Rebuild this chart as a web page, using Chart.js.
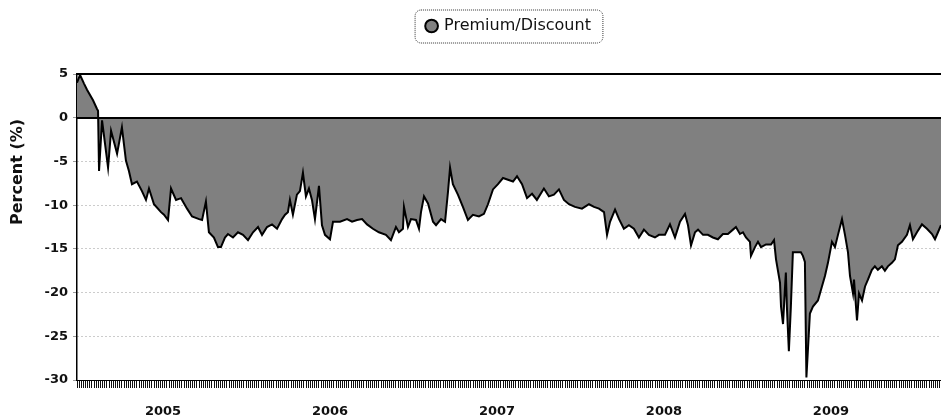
<!DOCTYPE html>
<html>
<head>
<meta charset="utf-8">
<title>Premium/Discount</title>
<script src="https://cdn.jsdelivr.net/npm/chart.js@4.4.1/dist/chart.umd.min.js"></script>
<style>
  html, body { margin: 0; padding: 0; background: #fff; overflow: hidden; }
  #wrap { width: 941px; height: 416px; position: relative; }
  canvas { display: block; }
</style>
</head>
<body>
<div id="wrap"><canvas id="premium-chart"></canvas></div>
<script>
// readings taken off the chart, date as decimal year
const dates = [
  2004.485, 2004.503, 2004.527, 2004.545, 2004.581, 2004.605, 2004.611, 2004.617, 2004.635, 2004.671,
  2004.689, 2004.725, 2004.754, 2004.778, 2004.796, 2004.814, 2004.844, 2004.874, 2004.898, 2004.916,
  2004.946, 2004.988, 2005.006, 2005.030, 2005.048, 2005.078, 2005.108, 2005.144, 2005.174, 2005.216,
  2005.234, 2005.257, 2005.275, 2005.305, 2005.329, 2005.347, 2005.371, 2005.389, 2005.419, 2005.449,
  2005.479, 2005.509, 2005.539, 2005.569, 2005.593, 2005.623, 2005.653, 2005.683, 2005.713, 2005.731,
  2005.748, 2005.760, 2005.778, 2005.802, 2005.820, 2005.838, 2005.856, 2005.874, 2005.892, 2005.910,
  2005.934, 2005.952, 2005.970, 2006.000, 2006.018, 2006.060, 2006.102, 2006.132, 2006.162, 2006.192,
  2006.222, 2006.257, 2006.293, 2006.335, 2006.365, 2006.395, 2006.413, 2006.437, 2006.443, 2006.467,
  2006.485, 2006.515, 2006.533, 2006.545, 2006.563, 2006.587, 2006.617, 2006.635, 2006.665, 2006.689,
  2006.707, 2006.719, 2006.736, 2006.766, 2006.796, 2006.826, 2006.856, 2006.892, 2006.922, 2006.946,
  2006.976, 2007.006, 2007.036, 2007.066, 2007.096, 2007.120, 2007.150, 2007.180, 2007.210, 2007.239,
  2007.281, 2007.311, 2007.341, 2007.371, 2007.401, 2007.431, 2007.467, 2007.509, 2007.551, 2007.581,
  2007.611, 2007.641, 2007.659, 2007.677, 2007.707, 2007.731, 2007.760, 2007.790, 2007.820, 2007.850,
  2007.880, 2007.910, 2007.946, 2007.970, 2008.006, 2008.036, 2008.066, 2008.096, 2008.126, 2008.144,
  2008.162, 2008.186, 2008.204, 2008.234, 2008.263, 2008.293, 2008.323, 2008.353, 2008.383, 2008.413,
  2008.431, 2008.455, 2008.473, 2008.491, 2008.515, 2008.521, 2008.545, 2008.563, 2008.581, 2008.611,
  2008.641, 2008.659, 2008.671, 2008.695, 2008.701, 2008.713, 2008.724, 2008.730, 2008.736, 2008.748,
  2008.760, 2008.772, 2008.802, 2008.820, 2008.832, 2008.844, 2008.853, 2008.874, 2008.892, 2008.922,
  2008.946, 2008.964, 2008.982, 2009.006, 2009.024, 2009.042, 2009.066, 2009.084, 2009.102, 2009.114,
  2009.132, 2009.138, 2009.156, 2009.168, 2009.186, 2009.204, 2009.222, 2009.245, 2009.263, 2009.281,
  2009.305, 2009.323, 2009.341, 2009.365, 2009.383, 2009.401, 2009.425, 2009.455, 2009.473, 2009.491,
  2009.515, 2009.545, 2009.575, 2009.605, 2009.623, 2009.641, 2009.659
];
const premium = [
  4.0, 4.9, 3.9, 3.2, 2.0, 1.0, 0.8, -6.1, -0.3, -5.7,
  -1.5, -4.1, -1.1, -4.9, -6.1, -7.6, -7.3, -8.4, -9.4, -8.1,
  -9.9, -10.8, -11.1, -11.7, -8.1, -9.4, -9.2, -10.4, -11.3, -11.6,
  -11.7, -9.6, -13.1, -13.7, -14.8, -14.8, -13.7, -13.3, -13.7, -13.1,
  -13.4, -14.0, -13.1, -12.5, -13.4, -12.5, -12.2, -12.7, -11.6, -11.1,
  -10.8, -9.4, -11.1, -8.8, -8.4, -6.3, -9.0, -8.1, -9.4, -11.6,
  -7.8, -12.3, -13.4, -13.9, -11.9, -11.9, -11.6, -11.9, -11.7, -11.6,
  -12.2, -12.7, -13.1, -13.4, -14.0, -12.5, -13.1, -12.7, -10.2, -12.5,
  -11.6, -11.7, -12.7, -10.8, -9.0, -9.8, -11.9, -12.3, -11.6, -11.9,
  -8.4, -5.7, -7.6, -8.8, -10.2, -11.7, -11.1, -11.3, -11.0, -9.9,
  -8.2, -7.6, -6.9, -7.1, -7.3, -6.7, -7.6, -9.2, -8.7, -9.4,
  -8.1, -9.0, -8.8, -8.2, -9.4, -9.9, -10.2, -10.4, -9.9, -10.2,
  -10.4, -10.8, -13.4, -11.9, -10.5, -11.6, -12.7, -12.3, -12.7, -13.7,
  -12.8, -13.4, -13.7, -13.4, -13.4, -12.2, -13.7, -11.9, -11.0, -12.3,
  -14.6, -13.1, -12.8, -13.4, -13.4, -13.7, -13.9, -13.3, -13.3, -12.8,
  -12.5, -13.3, -13.1, -13.7, -14.2, -15.8, -14.8, -14.2, -14.8, -14.5,
  -14.5, -14.0, -16.2, -18.9, -21.6, -23.6, -19.7, -17.7, -21.6, -26.7,
  -21.6, -15.4, -15.4, -15.4, -15.8, -16.5, -29.7, -22.4, -21.6, -20.9,
  -19.3, -18.1, -16.6, -14.2, -14.8, -13.4, -11.6, -13.4, -15.4, -18.1,
  -20.1, -18.5, -23.2, -20.1, -20.9, -19.3, -18.5, -17.4, -17.0, -17.4,
  -17.0, -17.5, -17.0, -16.6, -16.2, -14.6, -14.2, -13.4, -12.3, -13.9,
  -13.1, -12.2, -12.7, -13.3, -13.9, -13.1, -12.3
];
const yearTicks = [2005, 2006, 2007, 2008, 2009];
const percentTicks = [5, 0, -5, -10, -15, -20, -25, -30];
const seriesName = "Premium/Discount";
const axisTitle = "Percent (%)";

const FONT = "'DejaVu Sans', Verdana, sans-serif";

// legend takes the space down to the plot top, rounded box round the item
const legendBox = {
  id: 'legendBox',
  beforeInit(chart) {
    const fit = chart.legend.fit;
    chart.legend.fit = function () {
      fit.call(this);
      this.height = 74;
    };
  },
  afterDraw(chart) {
    const hb = chart.legend.legendHitBoxes[0];
    if (!hb) return;
    const ctx = chart.ctx;
    ctx.save();
    ctx.strokeStyle = '#333';
    ctx.lineWidth = 1;
    ctx.setLineDash([1, 1]);
    ctx.beginPath();
    ctx.roundRect(hb.left - 12, hb.top - 8, hb.width + 24, hb.height + 17, 6);
    ctx.stroke();
    ctx.restore();
  }
};

// heavy lines at 0 and at the top, and the y title
const refLines = {
  id: 'refLines',
  afterDatasetsDraw(chart) {
    const { ctx, chartArea, scales: { y } } = chart;
    ctx.save();
    ctx.strokeStyle = '#000';
    ctx.lineWidth = 2;
    [0, 5].forEach(v => {
      const py = Math.round(y.getPixelForValue(v));
      ctx.beginPath();
      ctx.moveTo(chartArea.left, py);
      ctx.lineTo(chartArea.right, py);
      ctx.stroke();
    });
    ctx.restore();
  },
  afterDraw(chart) {
    const ctx = chart.ctx;
    ctx.save();
    ctx.translate(18, 172);
    ctx.rotate(-Math.PI / 2);
    ctx.font = "bold 16px " + FONT;
    ctx.fillStyle = '#111';
    ctx.textAlign = 'center';
    ctx.textBaseline = 'middle';
    ctx.fillText(axisTitle, 0, 0);
    ctx.restore();
  }
};

new Chart(document.getElementById('premium-chart'), {
  type: 'line',
  data: {
    datasets: [{
      label: seriesName,
      data: dates.map((d, i) => ({ x: d, y: premium[i] })),
      borderColor: '#000',
      borderWidth: 2,
      backgroundColor: '#808080',
      fill: 'origin',
      pointRadius: 0,
      tension: 0
    }]
  },
  options: {
    responsive: true,
    maintainAspectRatio: false,
    animation: false,
    layout: { padding: 0 },
    plugins: {
      legend: {
        position: 'top',
        fullSize: false,
        labels: {
          usePointStyle: true,
          pointStyle: 'circle',
          boxWidth: 9,
          boxHeight: 9,
          padding: 18,
          color: '#111',
          font: { family: FONT, size: 16 }
        }
      },
      tooltip: { enabled: false }
    },
    scales: {
      x: {
        type: 'linear',
        min: dates[0],
        max: dates[dates.length - 1],
        afterBuildTicks: scale => {
          // dense minor ticks along the bottom, years on top of them
          const ticks = [];
          for (let t = dates[0]; t <= scale.max; t += 1 / 78) {
            if (!yearTicks.some(yr => Math.abs(yr - t) < 0.008)) ticks.push({ value: t });
          }
          yearTicks.forEach(yr => ticks.push({ value: yr }));
          ticks.sort((a, b) => a.value - b.value);
          scale.ticks = ticks;
        },
        ticks: {
          autoSkip: false,
          maxRotation: 0,
          minRotation: 0,
          padding: 0,
          color: '#111',
          font: { family: FONT, size: 13, weight: 'bold' },
          callback: v => yearTicks.includes(v) ? ['', String(v)] : ''
        },
        grid: { drawOnChartArea: false, tickLength: 8, color: '#111' },
        border: { color: '#000', width: 1 },
        afterFit: scale => { scale.height = 36; }
      },
      y: {
        min: -30,
        max: 5,
        afterBuildTicks: scale => { scale.ticks = percentTicks.map(v => ({ value: v })); },
        ticks: {
          padding: 5,
          color: '#111',
          font: { family: FONT, size: 13, weight: 'bold' }
        },
        grid: { color: '#999', tickLength: 4, lineWidth: 1 },
        border: { color: '#000', width: 1.5, dash: [1, 3] },
        afterFit: scale => { scale.width = 77; }
      }
    }
  },
  plugins: [legendBox, refLines]
});
</script>
</body>
</html>
